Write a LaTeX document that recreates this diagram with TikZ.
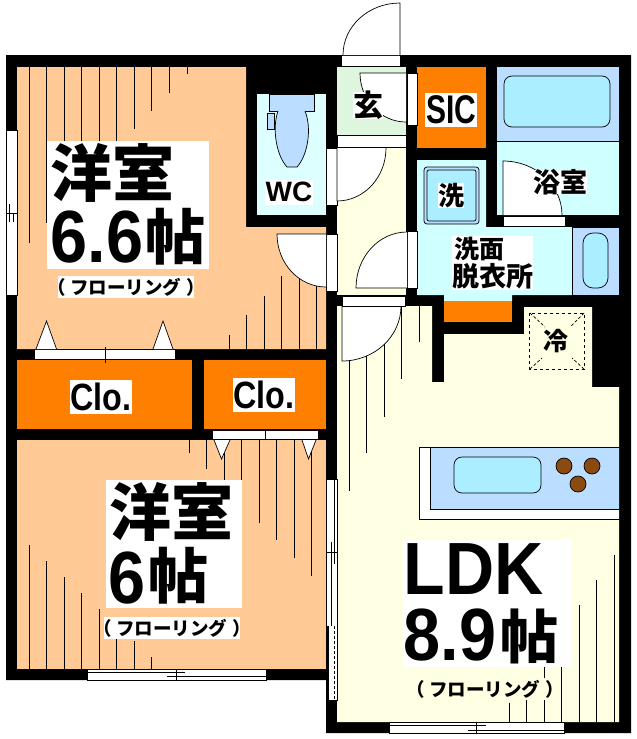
\documentclass[tikz,border=0pt]{standalone}
\usepackage{fontspec}
\setmainfont{Liberation Sans}
\newfontfamily\cjk{Noto Sans CJK JP}
\definecolor{woodroom}{HTML}{FFCA96}
\definecolor{closet}{HTML}{FF8000}
\definecolor{ldkfloor}{HTML}{FFFFE3}
\definecolor{wetroom}{HTML}{CFFFFF}
\definecolor{wcroom}{HTML}{DDFFFF}
\definecolor{fixture}{HTML}{BBDDFF}
\definecolor{basin}{HTML}{AAEEFF}
\definecolor{entry}{HTML}{DDF6DD}
\definecolor{burner}{HTML}{8B4A10}
\tikzset{
    thinline/.style={line width=0.7pt,black},
    strip/.style={fill=white,draw=black,line width=0.7pt},
    cjktext/.style={inner sep=0pt,font=\cjk\bfseries\fontsize{#1}{#1}\selectfont},
    numtext/.style={inner sep=0pt,font=\bfseries\fontsize{#1}{#1}\selectfont},
}
\newcommand{\doorleaf}[6]{%
    \fill[white] (#1,#2) -- ++(#3:#5 and #6) arc[start angle=#3,end angle=#4,x radius=#5,y radius=#6] -- cycle;
    \draw[thinline] (#1,#2) -- ++(#3:#5 and #6) arc[start angle=#3,end angle=#4,x radius=#5,y radius=#6];
}

\begin{document}
\begin{tikzpicture}[x=1pt,y=-1pt]
    \useasboundingbox (0,0) rectangle (637,739);
    \fill[black] (6,55) -- (631,55) -- (631,733) -- (326,733) -- (326,680) -- (6,680) -- cycle;
    \fill[woodroom] (17,67) -- (246,67) -- (246,227) -- (326,227) -- (326,349) -- (17,349) -- cycle;
    \fill[woodroom] (17,440) rectangle (326,669);
    \fill[closet] (17,360) rectangle (192,429);
    \fill[closet] (204,360) rectangle (326,429);
    \fill[closet] (417,67) rectangle (486,148);
    \fill[wcroom] (257,94) rectangle (326,215);
    \fill[entry] (337,67) rectangle (406,135);
    \fill[ldkfloor] (337,147) rectangle (406,295);
    \fill[ldkfloor] (337,306) -- (432,306) -- (432,382) -- (444,382) -- (444,334) -- (524,334)
        -- (524,307) -- (592,307) -- (592,387) -- (619,387) -- (619,722) -- (337,722) -- cycle;
    \fill[wetroom] (417,160) -- (486,160) -- (486,227) -- (572,227) -- (572,295) -- (512,295)
        -- (512,301) -- (444,301) -- (444,295) -- (417,295) -- cycle;
    \fill[closet] (444,301) rectangle (512,322);
    \fill[fixture] (497,67) rectangle (619,141);
    \fill[wetroom] (497,141) rectangle (619,215);
    \draw[thinline] (497,141) -- (619,141);
    \draw[thinline,fill=fixture] (572,227) rectangle (619,295);

    % floor boards
    \foreach \x/\y in {29.3/243,46.3/223,64.3/141,81.3/141,99.3/141,116.7/141,134.3/129,151.3/111,169.3/93,187.3/74}{
        \draw[thinline] (\x,67) -- (\x,\y);
    }
    \foreach \x/\y in {229.3/335,246.7/315,264.3/296,281.3/276,299.3/276,316/276}{
        \draw[thinline] (\x,349) -- (\x,\y);
    }
    \foreach \x/\y in {189.3/452.7,206.7/469.3,224.3/480,241.7/480,259.3/522.7,276.7/540,294.7/557.7,311.3/575.7}{
        \draw[thinline] (\x,440) -- (\x,\y);
    }
    \foreach \x/\y in {29.3/545,46.3/561,64.3/577.3,81.3/593.3,99.3/609.3,116.7/639,134.3/641,151.3/656.7}{
        \draw[thinline] (\x,669) -- (\x,\y);
    }
    \foreach \x/\y in {349.3/490.7,366.3/453.3,384.3/416.7,401.3/378.7,419.3/341.7}{
        \draw[thinline] (\x,306) -- (\x,\y);
    }
    \foreach \x/\y in {509.3/703,526.7/699,544.3/667,561.7/667,579.3/605,596.7/580,614.7/555}{
        \draw[thinline] (\x,722) -- (\x,\y);
    }

    % openings
    \draw[strip] (6,130) rectangle (17,295);
    \draw[thinline] (6,213) -- (17,213);
    \draw[thinline] (9.3,204) -- (9.3,222);
    \draw[thinline] (13.3,213) -- (13.3,222);
    \foreach \xa/\xb/\ya/\yb in {326/337/148/205,326/337/234/291,341/400/55/66,337/406/135/147,407/417/73/125,407/417/231/288,503/565/216/226,342/405/296/306,34/175/349/359,212/318/430/439,87/266/669/680,389/564/722/733,326/337/479/700}{
        \draw[strip] (\xa,\ya) rectangle (\xb,\yb);
    }
    \draw[thinline] (105,347) -- (105,363);
    \draw[thinline] (265,429) -- (265,439);
    \draw[thinline] (87,672.3) -- (185,672.3);
    \draw[thinline] (167,676) -- (266,676);
    \draw[thinline] (176,669) -- (176,680);
    \draw[thinline] (389,725) -- (486,725);
    \draw[thinline] (468,730) -- (564,730);
    \draw[thinline] (476.7,722) -- (476.7,733);
    \draw[thinline] (331.3,541.7) -- (331.3,626);
    \draw[thinline] (334.3,479) -- (334.3,564);
    \draw[thinline,densely dashed] (334.3,626) -- (334.3,700);
    \draw[thinline] (326,552) -- (337,552);
    \fill[black] (326,626) rectangle (329.3,700);

    % closet door guides
    \foreach \xa/\xm/\xb/\ya/\yb in {36/46.5/56.5/349/321,153/163/173/349/321,214/221.5/230/440/459,302/308.5/316/440/459}{
        \draw[strip] (\xa,\ya) -- (\xm,\yb) -- (\xb,\ya);
    }

    % door leaves
    \doorleaf{400}{55}{270}{180}{57}{52}
    \doorleaf{326}{234}{180}{90}{49}{53}
    \doorleaf{337}{148}{90}{0}{49}{53}
    \doorleaf{407}{288}{180}{270}{51}{56}
    \doorleaf{342}{306}{90}{0}{59}{55}
    \doorleaf{503}{215}{270}{360}{59}{54}
    \doorleaf{406}{73}{180}{90}{46}{49}
    \draw[thinline] (342,306) -- (401,306);

    % toilet
    \draw[thinline,fill=fixture] (269,94) rectangle (314,111);
    \draw[thinline,fill=fixture] (267,113) rectangle (274,129);
    \draw[thinline,fill=fixture] (278,111) .. controls (272,128) and (276,155) .. (287,167)
        -- (297,167) .. controls (308,155) and (312,128) .. (305,111);

    % bath, wash basin, washer pan
    \draw[thinline,fill=basin,rounded corners=8pt] (504,76) rectangle (610,127);
    \draw[thinline,fill=basin,rounded corners=10pt] (583,233) rectangle (608,288);
    \draw[thinline,fill=fixture,rounded corners=3pt] (424,167) rectangle (479,224);
    \draw[thinline,fill=basin,rounded corners=2pt] (427,170) rectangle (476,221);

    % fridge space
    \draw[thinline,dashed] (529.5,313) rectangle (584,369);
    \foreach \xa/\ya/\xb/\yb in {530/313/545/327,584/313/570/327,530/369/542/358,584/369/572/358}{
        \draw[thinline,densely dashed] (\xa,\ya) -- (\xb,\yb);
    }

    % kitchen counter
    \draw[thinline,fill=white] (619,447) -- (419,447) -- (419,519) -- (619,519);
    \fill[fixture] (430,447) rectangle (619,509);
    \draw[thinline] (619,509) -- (430,509) -- (430,447) -- (619,447);
    \draw[thinline,fill=basin,rounded corners=8pt] (454,457) rectangle (541,493);
    \foreach \x/\y in {564/466,592/466,578/484}{
        \draw[thinline,fill=burner] (\x,\y) circle[radius=8];
    }

    % label backgrounds
    \foreach \xa/\xb/\ya/\yb in {47/209/141/269,58/194/276/298,106/242/480/608,104/240/617/639,403/571/540/667,70/132/380/414,233/295/378/412,265/313/180/205,425/477/93/127,353/383/92/119,438/464/183/208,533/587/170/194,452/533/236/290}{
        \fill[white] (\xa,\ya) rectangle (\xb,\yb);
    }
    \fill[ldkfloor] (417,678) rectangle (553,700);

    % labels
    \node[cjktext=62] (westernOneName) at (112,172.5) {洋室};
    \node[numtext=74,xscale=.9,transform shape] (westernOneSize) at (97,237) {6.6};
    \node[cjktext=60] (westernOneUnit) at (175,237) {帖};
    \node[cjktext=62] (westernTwoName) at (171,511.5) {洋室};
    \node[numtext=74,xscale=.9,transform shape] (westernTwoSize) at (127.5,578) {6};
    \node[cjktext=60] (westernTwoUnit) at (178,576) {帖};
    \node[numtext=74,xscale=.92,transform shape] (ldkName) at (473.5,569.5) {LDK};
    \node[numtext=74,xscale=.9,transform shape] (ldkSize) at (450,635) {8.9};
    \node[cjktext=58] (ldkUnit) at (529.5,636) {帖};
    \foreach \pt/\lab in {(126,287)/floorOne,(172,628)/floorTwo,(485,689)/floorLdk}{
        \node[cjktext=18.5] (\lab) at \pt {（\hspace{5pt}フローリング\hspace{5pt}）};
    }
    \foreach \pt/\lab in {(101,397)/closetOne,(264,395)/closetTwo}{
        \node[numtext=38,xscale=.85,transform shape] (\lab) at \pt {Clo.};
    }
    \node[numtext=28] (toilet) at (289,192) {WC};
    \node[numtext=40,xscale=.75,transform shape] (shoes) at (451,110) {SIC};
    \node[cjktext=30] (entrance) at (368,105) {玄};
    \node[cjktext=26] (washer) at (451,195.5) {洗};
    \node[cjktext=27] (bathroom) at (560,182) {浴室};
    \node[cjktext=25] (washOne) at (479,249) {洗面};
    \node[cjktext=27] (washTwo) at (492.5,276.5) {脱衣所};
    \node[cjktext=25] (fridge) at (556,341) {冷};
\end{tikzpicture}
\end{document}
